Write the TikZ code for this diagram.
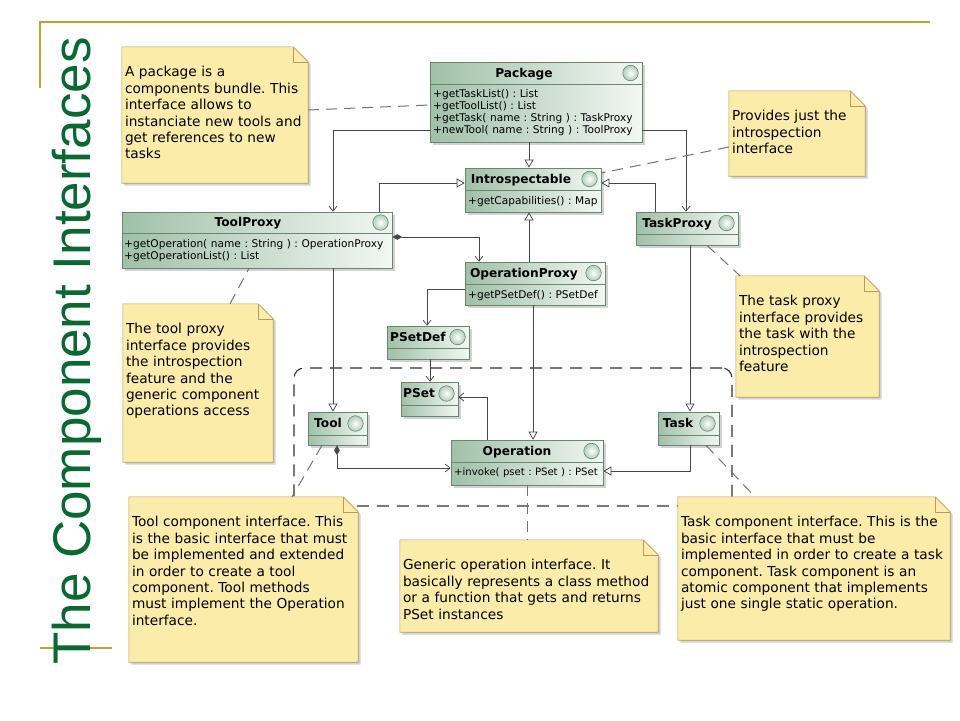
\documentclass[tikz,border=0pt]{standalone}
\usepackage{fontspec}
\usepackage{tikz}
\usetikzlibrary{positioning,fit,arrows.meta,shadows}
\newfontfamily\umlfont{DejaVu Sans}
\newfontfamily\slidefont{Liberation Sans}
\definecolor{notefill}{RGB}{252,236,170}
\definecolor{noteline}{RGB}{178,158,96}
\definecolor{classdark}{RGB}{160,192,168}
\definecolor{classlight}{RGB}{242,247,243}
\definecolor{classline}{RGB}{105,135,112}
\definecolor{wiregray}{RGB}{70,70,70}
\definecolor{titlegreen}{RGB}{10,105,50}
\definecolor{slidegold}{RGB}{192,162,50}
\frenchspacing

\tikzset{
  classbox/.style={draw=classline, line width=0.7pt, left color=classdark, right color=classlight, inner sep=0pt,
    drop shadow={shadow xshift=2.5pt, shadow yshift=-2.5pt, opacity=0.35}},
  classtitle/.style={font=\umlfont\bfseries\fontsize{12.2}{14}\selectfont, inner sep=0pt, text height=9pt, text depth=2.6pt},
  classball/.style={circle, draw=classline, line width=0.6pt, inner color=white, outer color=classdark!80, minimum size=15.5pt, inner sep=0pt},
  classops/.style={font=\umlfont\fontsize{10.6}{12.2}\selectfont, inner sep=0pt, text width=280pt, align=left, anchor=base west},
  notebox/.style={inner sep=0pt},
  notepaper/.style={fill=notefill, draw=noteline, line width=0.6pt,
    drop shadow={shadow xshift=2.5pt, shadow yshift=-2.5pt, opacity=0.35}},
  notefold/.style={draw=noteline, line width=0.6pt},
  notetext/.style={font=\umlfont\fontsize{13.7}{16.4}\selectfont, inner sep=0pt, text width=290pt, align=left, anchor=base west},
  wire/.style={draw=wiregray, line width=0.75pt},
  nav/.style={wire, -{Straight Barb[length=5pt,width=8pt]}},
  gen/.style={wire, -{Triangle[open,length=8pt,width=9pt]}},
  comp/.style={wire, {Diamond[length=10pt,width=5.5pt]}-{Straight Barb[length=5pt,width=8pt]}},
  notelink/.style={draw=black!55, line width=1pt, dash pattern=on 11pt off 7pt},
  groupframe/.style={draw=black!80, line width=1.1pt, dash pattern=on 12pt off 8pt, rounded corners=10pt, inner sep=0pt},
  slidetitle/.style={font=\slidefont\fontsize{53}{60}\selectfont, text=titlegreen, rotate=90, anchor=base, inner sep=0pt}
}

\newcommand\umlclass[8]{%
  \node[classbox, fit={(#2,#3) (#4,#5)}] (#1) {};
  \draw[classline, line width=0.6pt] (#1.west |- 0,#6) -- (#1.east |- 0,#6);
  \node[classtitle] (#1title) at (#7,{(#3+#6)/2+1}) {#8};
  \node[classball] (#1ball) at ({#4-11.5},{(#3+#6)/2}) {};
}
\newcommand\umlnote[6]{%
  \node[notebox, fit={(#2,#3) (#4,#5)}] (#1) {};
  \path[notepaper] (#1.south west) -- (#1.north west) -- ([xshift=-15pt]#1.north east)
    -- ([yshift=-15pt]#1.north east) -- (#1.south east) -- cycle;
  \draw[notefold] ([xshift=-15pt]#1.north east) |- ([yshift=-15pt]#1.north east);
  \node[notetext] (#1text) at ([xshift=3pt,yshift=-30pt]#1.north west) {#6};
}

\begin{document}
\begin{tikzpicture}[x=1pt,y=-1pt]
\fill[white] (0,0) rectangle (960,720);
\useasboundingbox (0,0) rectangle (960,720);

\draw[slidegold, line width=2pt] (930,22) -- (40,22) -- (40,88);
\draw[slidegold, line width=2pt] (40,648) -- (112,648);
\node[slidetitle] (title) at (90,351) {The Component Interfaces};

\node[groupframe, fit={(294,368) (732,506)}] (components) {};

\umlclass{package}{430}{62}{642}{142}{84}{524}{Package}
\node[classops] (packageops) at (433,97) {+getTaskList() : List\\+getToolList() : List\\+getTask( name : String ) : TaskProxy\\+newTool( name : String ) : ToolProxy};
\umlclass{introspectable}{465}{168}{601}{212}{190}{521}{Introspectable}
\node[classops] (introspectableops) at (468,204) {+getCapabilities() : Map};
\umlclass{toolproxy}{122}{212}{392}{268}{233}{248}{ToolProxy}
\node[classops] (toolproxyops) at (124,247) {+getOperation( name : String ) : OperationProxy\\+getOperationList() : List};
\umlclass{taskproxy}{636}{212}{738}{245}{234}{677}{TaskProxy}
\umlclass{opproxy}{465}{262}{605}{305}{284}{524}{OperationProxy}
\node[classops] (opproxyops) at (468,298) {+getPSetDef() : PSetDef};
\umlclass{psetdef}{387}{326}{469}{359}{348}{418}{PSetDef}
\umlclass{pset}{401}{382}{458}{416}{405}{419}{PSet}
\umlclass{tool}{308}{412}{367}{445}{435}{328}{Tool}
\umlclass{task}{658}{412}{719}{445}{435}{678}{Task}
\umlclass{operation}{451}{440}{603}{485}{462}{517}{Operation}
\node[classops, font=\umlfont\fontsize{10.1}{12.2}\selectfont] (operationops) at (454,475) {+invoke( pset : PSet ) : PSet};

\umlnote{pkgnote}{122}{47}{308}{183}{A package is a\\components bundle. This\\interface allows to\\instanciate new tools and\\get references to new\\tasks}
\umlnote{intronote}{729}{91}{865}{176}{Provides just the\\introspection\\interface}
\umlnote{toolproxynote}{123}{304}{273}{462}{The tool proxy\\interface provides\\the introspection\\feature and the\\generic component\\operations access}
\umlnote{taskproxynote}{736}{276}{879}{397}{The task proxy\\interface provides\\the task with the\\introspection\\feature}
\umlnote{toolnote}{129}{497}{358}{662}{Tool component interface. This\\is the basic interface that must\\be implemented and extended\\in order to create a tool\\component. Tool methods\\must implement the Operation\\interface.}
\umlnote{opnote}{400}{540}{658}{632}{Generic operation interface. It\\basically represents a class method\\or a function that gets and returns\\PSet instances}
\umlnote{tasknote}{678}{497}{950}{640}{Task component interface. This is the\\basic interface that must be\\implemented in order to create a task\\component. Task component is an\\atomic component that implements\\just one single static operation.}

\draw[nav] (package.west |- 0,130) -| (toolproxy.north -| 333,0);
\draw[nav] (package.east |- 0,130) -| (taskproxy.north -| 686,0);
\draw[gen] (package.south -| 529,0) -- (introspectable.north -| 529,0);
\draw[gen] (toolproxy.north -| 379,0) |- (introspectable.west |- 0,183);
\draw[gen] (taskproxy.north -| 655,0) |- (introspectable.east |- 0,183);
\draw[gen] (opproxy.north -| 529,0) -- (introspectable.south -| 529,0);
\draw[comp] (toolproxy.east |- 0,237) -| (opproxy.north -| 479,0);
\draw[nav] (opproxy.west |- 0,289) -| (psetdef.north -| 427,0);
\draw[nav] (psetdef.south -| 430,0) -- (pset.north -| 430,0);
\draw[gen] (opproxy.south -| 533,0) -- (operation.north -| 533,0);
\draw[nav] (operation.north -| 487,0) |- (pset.east |- 0,397);
\draw[gen] (toolproxy.south -| 333,0) -- (tool.north -| 333,0);
\draw[gen] (taskproxy.south -| 690,0) -- (task.north -| 690,0);
\draw[comp] (tool.south -| 337,0) |- (operation.west |- 0,468);
\draw[gen] (task.south -| 690,0) |- (operation.east |- 0,471);

\draw[notelink] (pkgnote.east |- 0,110) -- (package.west |- 0,105);
\draw[notelink] (intronote.west |- 0,147) -- (introspectable.east |- 0,173);
\draw[notelink] (toolproxynote.north -| 230,0) -- (toolproxy.south -| 249,0);
\draw[notelink] (taskproxy.south -| 707,0) -- (taskproxynote.north -| 740,0);
\draw[notelink] (tool.south -| 322,0) -- (toolnote.north -| 292,0);
\draw[notelink] (operation.south -| 527,0) -- (opnote.north -| 527,0);
\draw[notelink] (task.south -| 706,0) -- (tasknote.north -| 755,0);
\end{tikzpicture}
\end{document}
